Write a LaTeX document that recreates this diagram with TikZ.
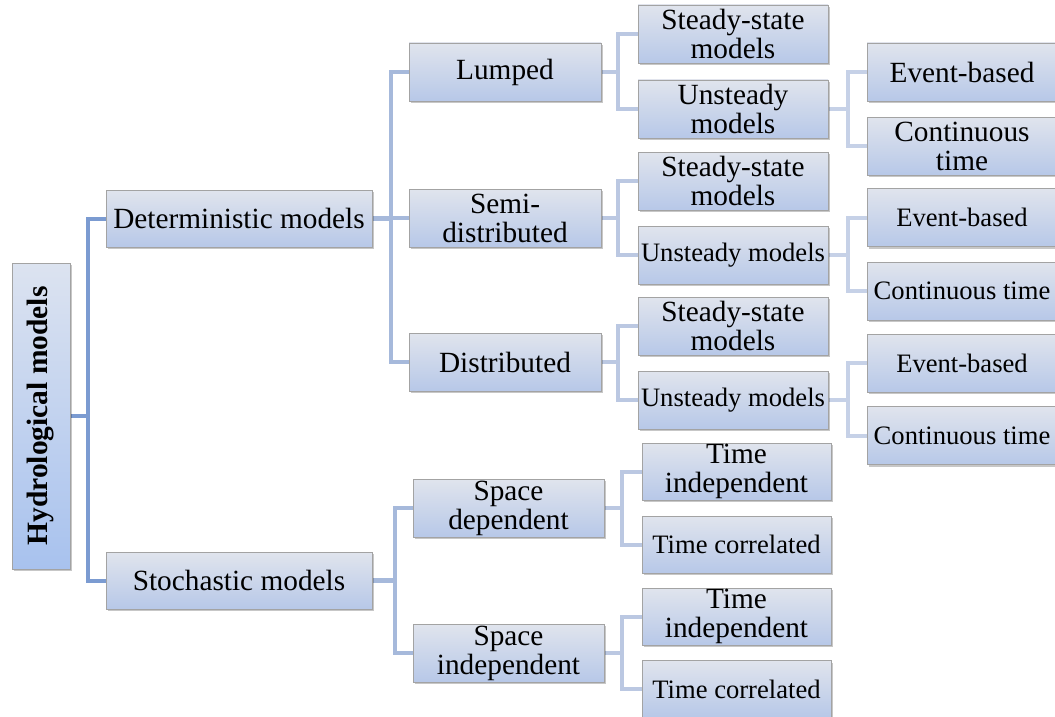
\documentclass[tikz,border=0pt]{standalone}
\usepackage{fontspec}
\setmainfont{Liberation Serif}
\usetikzlibrary{shadows,backgrounds}
\definecolor{boxtop}{HTML}{E0E4ED}
\definecolor{boxbot}{HTML}{B7C8E8}
\definecolor{roottop}{HTML}{DCE3F0}
\definecolor{rootbot}{HTML}{A8C2EE}
\definecolor{edge}{HTML}{A3A3A3}
\definecolor{linkA}{HTML}{7B9BD1}
\definecolor{linkB}{HTML}{A6B9DB}
\definecolor{linkC}{HTML}{BBC8E2}
\definecolor{linkD}{HTML}{C6D1E7}
\tikzset{
  box/.style={rectangle, draw=edge, line width=0.7pt, top color=boxtop, bottom color=boxbot,
    drop shadow={shadow xshift=1.5pt, shadow yshift=-2pt, fill=black, opacity=0.22},
    align=center, inner sep=0pt, minimum height=58pt,
    font=\fontsize{29.3}{29}\selectfont},
  wA/.style={box, minimum width=266pt, minimum height=57pt},
  wB/.style={box, minimum width=192pt},
  wC/.style={box, minimum width=190pt},
  wD/.style={box, minimum width=190pt},
  small/.style={font=\fontsize{26.6}{28}\selectfont},
  linkone/.style={draw=linkA, line width=4pt},
  linktwo/.style={draw=linkB, line width=4.5pt},
  linkthree/.style={draw=linkC, line width=4pt},
  linkfour/.style={draw=linkD, line width=4pt},
}
\begin{document}
\begin{tikzpicture}[x=1pt, y=-1pt]
\useasboundingbox (0,0) rectangle (1055,717);

% trunk positions of the elbow connectors
\coordinate (tA) at (88,0);
\coordinate (tB) at (391,0);
\coordinate (tBs) at (395,0);
\coordinate (tC) at (618,0);
\coordinate (tCs) at (622,0);
\coordinate (tD) at (848,0);

% root
\node[box, top color=roottop, bottom color=rootbot, minimum width=58pt, minimum height=306pt]
  (root) at (41,416) {};
\node[rotate=90, font=\fontsize{29.5}{29}\selectfont\bfseries] (roottext) at (root.center) {Hydrological models};

% first level
\node[wA] (det) at (239,218.5) {Deterministic models};
\node[wA] (sto) at (239,580.5) {Stochastic models};

% second level
\node[wB] (lump) at (505,72) {Lumped};
\node[wB] (semi) at (505,218) {Semi-\\distributed};
\node[wB] (dist) at (505,362) {Distributed};
\node[wB, minimum width=191pt] (spdep) at (508.5,508) {Space\\dependent};
\node[wB, minimum width=191pt] (spind) at (508.5,653) {Space\\independent};

% third level
\node[wC] (ssA) at (733,34) {Steady-state\\models};
\node[wC] (unA) at (733,109) {Unsteady\\models};
\node[wC] (ssB) at (733,181) {Steady-state\\models};
\node[wC, small] (unB) at (733,255) {Unsteady models};
\node[wC] (ssC) at (733,326) {Steady-state\\models};
\node[wC, small] (unC) at (733,400) {Unsteady models};
\node[wC, minimum width=189pt, minimum height=57pt] (tiA) at (736.5,471.5) {Time\\independent};
\node[wC, small, minimum width=189pt, minimum height=57pt] (tcA) at (736.5,544.5) {Time correlated};
\node[wC, minimum width=189pt, minimum height=57pt] (tiB) at (736.5,616.5) {Time\\independent};
\node[wC, small, minimum width=189pt, minimum height=57pt] (tcB) at (736.5,689) {Time correlated};

% fourth level
\node[wD] (ebA) at (962,72) {Event-based};
\node[wD] (ctA) at (962,146) {Continuous\\time};
\node[wD, small] (ebB) at (962,217.5) {Event-based};
\node[wD, small] (ctB) at (962,291) {Continuous time};
\node[wD, small] (ebC) at (962,363) {Event-based};
\node[wD, small] (ctC) at (962,435.5) {Continuous time};

% elbow connectors, drawn behind the boxes
\begin{scope}[on background layer]
\draw[linkone] (root.east) -- (root.east -| tA) |- (det.west);
\draw[linkone] (root.east -| tA) |- (sto.west);

\draw[linktwo] (det.east) -- (det.east -| tB) |- (lump.west);
\draw[linktwo] (det.east -| tB) |- (semi.west);
\draw[linktwo] (det.east -| tB) |- (dist.west);
\draw[linktwo] (sto.east) -- (sto.east -| tBs) |- (spdep.west);
\draw[linktwo] (sto.east -| tBs) |- (spind.west);

\draw[linkthree] (lump.east) -- (lump.east -| tC) |- (ssA.west);
\draw[linkthree] (lump.east -| tC) |- (unA.west);
\draw[linkthree] (semi.east) -- (semi.east -| tC) |- (ssB.west);
\draw[linkthree] (semi.east -| tC) |- (unB.west);
\draw[linkthree] (dist.east) -- (dist.east -| tC) |- (ssC.west);
\draw[linkthree] (dist.east -| tC) |- (unC.west);
\draw[linkthree] (spdep.east) -- (spdep.east -| tCs) |- (tiA.west);
\draw[linkthree] (spdep.east -| tCs) |- (tcA.west);
\draw[linkthree] (spind.east) -- (spind.east -| tCs) |- (tiB.west);
\draw[linkthree] (spind.east -| tCs) |- (tcB.west);

\draw[linkfour] (unA.east) -- (unA.east -| tD) |- (ebA.west);
\draw[linkfour] (unA.east -| tD) |- (ctA.west);
\draw[linkfour] (unB.east) -- (unB.east -| tD) |- (ebB.west);
\draw[linkfour] (unB.east -| tD) |- (ctB.west);
\draw[linkfour] (unC.east) -- (unC.east -| tD) |- (ebC.west);
\draw[linkfour] (unC.east -| tD) |- (ctC.west);
\end{scope}
\end{tikzpicture}
\end{document}
